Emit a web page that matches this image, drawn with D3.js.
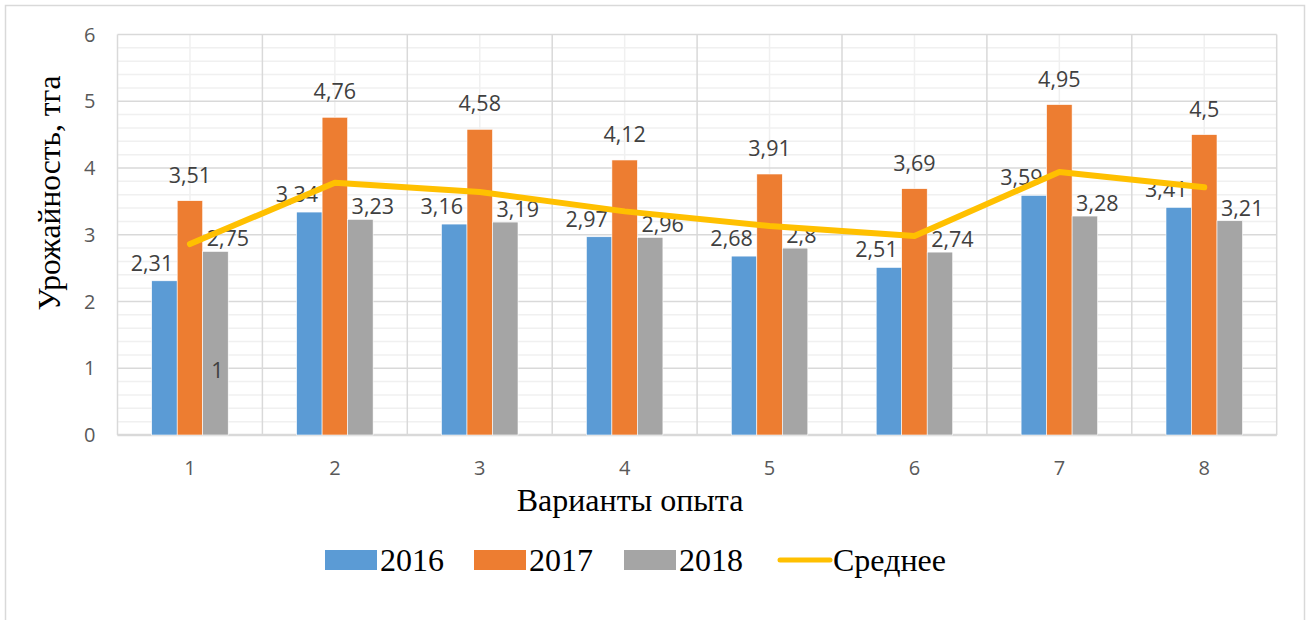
<!DOCTYPE html>
<html>
<head>
<meta charset="utf-8">
<script src="https://cdn.jsdelivr.net/npm/d3@7"></script>
<style>
  body { margin: 0; background: white; }
</style>
</head>
<body>
<script>
// data
const categories = ["1", "2", "3", "4", "5", "6", "7", "8"]
const series = ["2016", "2017", "2018"]
const y2016 = [2.31, 3.34, 3.16, 2.97, 2.68, 2.51, 3.59, 3.41]
const y2017 = [3.51, 4.76, 4.58, 4.12, 3.91, 3.69, 4.95, 4.5]
const y2018 = [2.75, 3.23, 3.19, 2.96, 2.8, 2.74, 3.28, 3.21]
const meanValues = [2.86, 3.78, 3.64, 3.35, 3.13, 2.98, 3.94, 3.71]
const yTicks = [0, 1, 2, 3, 4, 5, 6]

const [width, height] = [1306, 620]
const margin = { top: 34.5, right: 29.3, bottom: 185, left: 117.5 }
const colors = {
    "2016": "#5B9BD5",
    "2017": "#ED7D31",
    "2018": "#A5A5A5",
    "mean": "#FFC000",
    "grid": "#d9d9d9",
    "minor": "#f0f0f0",
    "text": "#595959",
    "label": "#404040"
}
const labelFont = "'Open Sans', 'Liberation Sans', sans-serif"
const titleFont = "'Liberation Serif', 'DejaVu Serif', serif"

const rows = categories.map((c, i) => ({
    cat: c,
    values: [y2016[i], y2017[i], y2018[i]],
    mean: meanValues[i]
}))

const svg = d3.select("body")
    .append("svg")
        .attr("width", width)
        .attr("height", height)

// outer frame
svg.append("rect")
    .attr("x", 5.5).attr("y", 5.5)
    .attr("width", 1299).attr("height", 640)
    .attr("fill", "white")
    .attr("stroke", colors.grid)
    .attr("stroke-width", 1.5)

const x0 = d3.scaleBand()
    .domain(categories)
    .range([margin.left, width - margin.right])
    .paddingInner(0.472)
    .paddingOuter(0.236)
const x1 = d3.scaleBand()
    .domain(series)
    .range([0, x0.bandwidth()])
const y = d3.scaleLinear()
    .domain([0, 6])
    .range([height - margin.bottom, margin.top])

const step = x0.step()
const left = margin.left, right = width - margin.right

// minor horizontal grid
const minorTicks = d3.range(0, 6.001, 0.2).filter(v => Math.abs(v - Math.round(v)) > 0.01)
svg.append("g")
    .selectAll("line")
    .data(minorTicks)
    .join("line")
        .attr("x1", left).attr("x2", right)
        .attr("y1", d => y(d)).attr("y2", d => y(d))
        .attr("stroke", colors.minor)
        .attr("stroke-width", 1.5)

// minor vertical grid at category centres
svg.append("g")
    .selectAll("line")
    .data(categories)
    .join("line")
        .attr("x1", d => x0(d) + x0.bandwidth() / 2)
        .attr("x2", d => x0(d) + x0.bandwidth() / 2)
        .attr("y1", y(6)).attr("y2", y(0))
        .attr("stroke", colors.minor)
        .attr("stroke-width", 1.5)

// major grid
svg.append("g")
    .selectAll("line")
    .data(yTicks)
    .join("line")
        .attr("x1", left).attr("x2", right)
        .attr("y1", d => y(d)).attr("y2", d => y(d))
        .attr("stroke", colors.grid)
        .attr("stroke-width", 1.5)

svg.append("g")
    .selectAll("line")
    .data(d3.range(categories.length + 1))
    .join("line")
        .attr("x1", d => left + d * step)
        .attr("x2", d => left + d * step)
        .attr("y1", y(6)).attr("y2", y(0))
        .attr("stroke", colors.grid)
        .attr("stroke-width", 1.5)

// bottom axis line
svg.append("line")
    .attr("x1", left).attr("x2", right)
    .attr("y1", y(0)).attr("y2", y(0))
    .attr("stroke", colors.grid)
    .attr("stroke-width", 2.5)

// bars
const groups = svg.append("g")
    .selectAll("g")
    .data(rows)
    .join("g")
        .attr("transform", d => `translate(${x0(d.cat)},0)`)

groups.selectAll("rect")
    .data(d => d.values.map((v, i) => ({ key: series[i], value: v })))
    .join("rect")
        .attr("x", d => x1(d.key))
        .attr("width", x1.bandwidth())
        .attr("y", d => y(d.value))
        .attr("height", d => y(0) - y(d.value))
        .attr("fill", d => colors[d.key])
        .attr("stroke", "white")
        .attr("stroke-width", 0.6)

// average line
svg.append("path")
    .datum(rows)
    .attr("fill", "none")
    .attr("stroke", colors.mean)
    .attr("stroke-width", 6)
    .attr("stroke-linecap", "round")
    .attr("stroke-linejoin", "round")
    .attr("d", d3.line()
        .x(d => x0(d.cat) + x0.bandwidth() / 2)
        .y(d => y(d.mean)))

// data labels
const fmt = v => String(v).replace(".", ",")
groups.selectAll("text.lbl")
    .data(d => d.values.map((v, i) => ({ key: series[i], value: v })))
    .join("text")
        .attr("class", "lbl")
        .attr("x", d => d.key == "2016" ? x1(d.key) + x1.bandwidth() - 4
                     : d.key == "2017" ? x1(d.key) + x1.bandwidth() / 2
                     : x1(d.key) + 4)
        .attr("y", d => y(d.value) - (d.key == "2016" ? 10 : d.key == "2017" ? 18 : 5))
        .attr("text-anchor", d => d.key == "2016" ? "end" : d.key == "2017" ? "middle" : "start")
        .attr("font-family", labelFont)
        .attr("font-size", 21.5)
        .attr("fill", colors.label)
        .text(d => fmt(d.value))

// stray label inside the first grey bar
svg.append("text")
    .attr("x", x0("1") + x1("2018") + x1.bandwidth() / 2 + 2)
    .attr("y", y(1) + 10)
    .attr("text-anchor", "middle")
    .attr("font-family", labelFont)
    .attr("font-size", 21.5)
    .attr("fill", colors.label)
    .text("1")

// y tick labels
svg.append("g")
    .selectAll("text")
    .data(yTicks)
    .join("text")
        .attr("x", left - 22)
        .attr("y", d => y(d) + 7)
        .attr("text-anchor", "end")
        .attr("font-family", labelFont)
        .attr("font-size", 20)
        .attr("fill", colors.text)
        .text(d => d)

// x tick labels
svg.append("g")
    .selectAll("text")
    .data(categories)
    .join("text")
        .attr("x", d => x0(d) + x0.bandwidth() / 2)
        .attr("y", y(0) + 40)
        .attr("text-anchor", "middle")
        .attr("font-family", labelFont)
        .attr("font-size", 20)
        .attr("fill", colors.text)
        .text(d => d)

// axis titles
svg.append("text")
    .attr("transform", "translate(60,193) rotate(-90)")
    .attr("text-anchor", "middle")
    .attr("font-family", titleFont)
    .attr("font-size", 31.5)
    .attr("fill", "black")
    .text("Урожайность, тга")

svg.append("text")
    .attr("x", 630)
    .attr("y", 511)
    .attr("text-anchor", "middle")
    .attr("font-family", titleFont)
    .attr("font-size", 32)
    .attr("fill", "black")
    .text("Варианты опыта")

// legend
const legendItems = [
    { key: "2016", label: "2016", type: "rect", x: 325 },
    { key: "2017", label: "2017", type: "rect", x: 474 },
    { key: "2018", label: "2018", type: "rect", x: 624 },
    { key: "mean", label: "Среднее", type: "line", x: 778 }
]
const legend = svg.append("g")
    .selectAll("g")
    .data(legendItems)
    .join("g")
        .attr("transform", d => `translate(${d.x},560)`)

legend.filter(d => d.type == "rect")
    .append("rect")
        .attr("x", 0).attr("y", -10)
        .attr("width", 52).attr("height", 20)
        .attr("fill", d => colors[d.key])

legend.filter(d => d.type == "line")
    .append("line")
        .attr("x1", 2).attr("x2", 52)
        .attr("y1", 0).attr("y2", 0)
        .attr("stroke", colors.mean)
        .attr("stroke-width", 5)
        .attr("stroke-linecap", "round")

legend.append("text")
    .attr("x", 55)
    .attr("y", 11)
    .attr("font-family", titleFont)
    .attr("font-size", 32)
    .attr("fill", "black")
    .text(d => d.label)
</script>
</body>
</html>
